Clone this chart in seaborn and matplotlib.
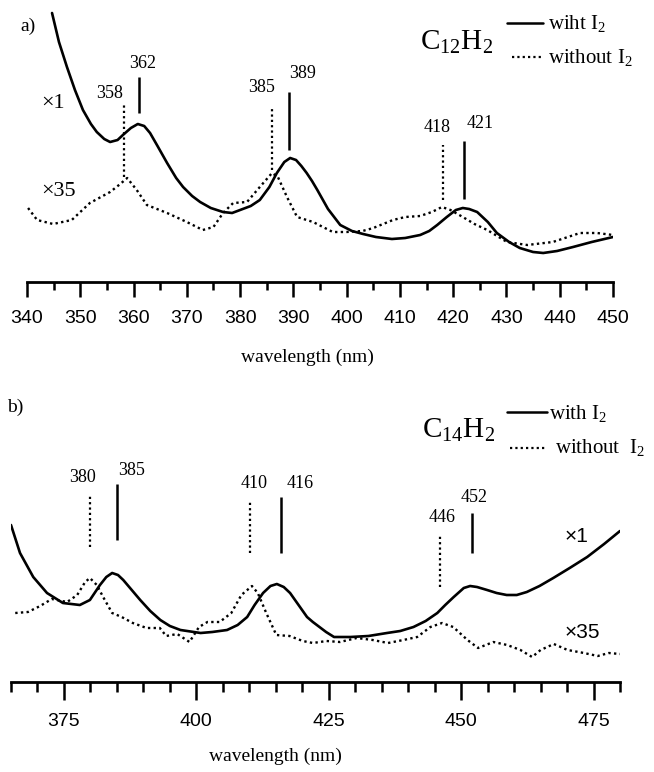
import matplotlib
matplotlib.use("Agg")
import matplotlib.pyplot as plt
from matplotlib import font_manager
from matplotlib.lines import Line2D
from matplotlib.ticker import MultipleLocator
import seaborn as sns
import pandas as pd

# ---------------- data ----------------
# Panel a: C12H2
a_with_wl = [344.7, 346, 347.5, 349, 350.5, 352, 353.1, 354.5, 355.6, 357, 358, 359.5, 360.8, 362,
             363.1, 364.5, 366.3, 368, 369.3, 371, 372.5, 374.5, 376.8, 378.5, 380, 382, 383.7,
             385.5, 386.9, 388.3, 389.4, 390.5, 391.5, 392.5, 393.5, 394.5, 396.5, 398.8, 401,
             403.1, 405.5, 408.5, 411, 413.8, 415.5, 417, 418.8, 420.5, 421.8, 423, 424.5, 426.5,
             428.2, 430.5, 432.5, 435, 436.9, 439.5, 442.5, 446, 450]
a_with_abs = [269, 240, 215, 192, 172, 158, 150, 143, 140, 142, 147, 154, 158, 156,
              149, 136, 119, 104, 95, 86, 80, 74, 70, 69, 72, 76, 82,
              95, 109, 120, 124, 122, 116, 109, 101, 92, 73, 57, 51,
              48, 45, 43, 44, 47, 51, 57, 65, 72, 74, 73, 70, 60,
              49, 40, 34, 30, 29, 31, 35, 40, 45]
a_without_wl = [340.2, 341.9, 344.9, 348.4, 351.8, 355.6, 357.5, 358.8, 360.6, 362.5, 366.3, 370,
                373, 375, 376.8, 378.7, 381.3, 383.7, 386, 387.1, 388.8, 390.7, 393.7, 397.4, 400,
                403, 405, 408.7, 411, 413.8, 416, 417.9, 419.5, 421.8, 424, 426.4, 430.1, 433.9,
                438.7, 443.8, 447, 450]
a_without_abs = [74, 62, 58, 62, 79, 90, 98, 104, 92, 77, 69, 60,
                 52, 55, 69, 79, 80, 95, 109, 105, 85, 65, 60, 50, 50,
                 51, 54, 62, 65, 66, 70, 75, 72, 65, 58, 52, 40, 37,
                 40, 49, 49, 47]
a_peak_labels = ["358", "362", "385", "389", "418", "421"]
a_peak_pos = [358.2, 361.0, 386.0, 389.2, 418.1, 422.0]
a_ticks = [340, 350, 360, 370, 380, 390, 400, 410, 420, 430, 440, 450]

# Panel b: C14H2
b_with_wl = [365, 366.7, 369.2, 371.8, 374.8, 378, 379.9, 381.8, 383, 384.1, 385.2, 386.2, 387.8,
             389.4, 391.3, 393.2, 395, 397, 400.8, 403, 405.8, 407.8, 409.6, 411, 412.6, 414,
             415.2, 416.5, 417.7, 419.3, 420.9, 422, 424.5, 426, 429.1, 432.5, 436, 438.5, 441,
             443.3, 445.5, 447, 448.6, 450.5, 451.7, 453, 454.9, 456.7, 458.6, 460.5, 462.4,
             464.8, 467.4, 470.5, 473.8, 477, 480]
b_with_abs = [157, 129, 105, 89, 79, 77, 82, 97, 105, 109, 107, 102, 92,
              82, 71, 62, 56, 52, 49, 50, 52, 57, 65, 77, 89, 96,
              98, 95, 89, 77, 65, 60, 50, 45, 45, 46, 49, 51, 55,
              61, 69, 77, 85, 94, 96, 95, 92, 89, 87, 87, 90,
              96, 104, 114, 125, 138, 151]
b_without_wl = [365.8, 368.2, 370.5, 372.7, 375.6, 377.5, 379, 379.9, 381.2, 382.4, 384.1, 385.9,
                388, 390.6, 393.1, 394.3, 396.4, 398.7, 400.5, 402.1, 404.4, 406.6, 408.5, 410.5,
                411.6, 413.2, 415.1, 417.6, 420.1, 422, 424.6, 427.1, 430.3, 433.3, 436.2, 439.1,
                441.7, 444.2, 446.4, 448.5, 451.2, 453.2, 456.1, 458.7, 461.2, 463.4, 465, 467.5,
                470.1, 473.2, 475.8, 477.9, 480]
b_without_abs = [69, 70, 76, 83, 80, 87, 100, 104, 97, 85, 69, 65,
                 59, 54, 54, 46, 48, 40, 55, 60, 60, 69, 87, 96,
                 89, 69, 47, 46, 41, 39, 41, 40, 44, 42, 39, 42,
                 45, 55, 59, 55, 42, 34, 40, 37, 32, 25, 32, 38,
                 32, 29, 26, 29, 28]
b_peak_labels = ["380", "385", "410", "416", "446", "452"]
b_peak_pos = [379.9, 385.0, 410.2, 416.0, 446.0, 452.1]
b_ticks = [375, 400, 425, 450, 475]

# ---------------- style ----------------
sns.set_theme(style="white")
available = {f.name for f in font_manager.fontManager.ttflist}
SERIF = "Liberation Serif" if "Liberation Serif" in available else "DejaVu Serif"
NARROW = "Liberation Sans Narrow" if "Liberation Sans Narrow" in available else "Liberation Sans"
TICK_SIZE = 15 if NARROW == "Liberation Sans Narrow" else 14
plt.rcParams["font.family"] = [SERIF, "DejaVu Serif"]
plt.rcParams["mathtext.fontset"] = "custom"
plt.rcParams["mathtext.rm"] = SERIF
plt.rcParams["mathtext.it"] = SERIF + ":italic"

W, H = 654, 772
fig = plt.figure(figsize=(W / 100, H / 100), dpi=100)
fig.patch.set_facecolor("white")


def fx(px):
    return px / W


def fy(py):
    return 1 - py / H


def ftext(px, py, s, size, family=None, ha="center", va="center"):
    kw = {}
    if family:
        kw["family"] = family
    fig.text(fx(px), fy(py), s, fontsize=size, ha=ha, va=va, color="black", **kw)


def fline(x1, x2, y, ls):
    fig.add_artist(Line2D([fx(x1), fx(x2)], [fy(y), fy(y)], transform=fig.transFigure,
                          color="black", lw=1.8 if ls == "-" else 1.6, linestyle=ls))


def style_axis(ax, xlim, minor, ticks, maj_len, min_len):
    ax.set_xlim(*xlim)
    ax.set_ylim(0, 282)
    for s in ["top", "right", "left"]:
        ax.spines[s].set_visible(False)
    ax.spines["bottom"].set_linewidth(2.0)
    ax.spines["bottom"].set_color("black")
    ax.set_yticks([])
    ax.set_xticks(ticks)
    ax.xaxis.set_minor_locator(MultipleLocator(minor))
    ax.tick_params(axis="x", which="major", direction="out", length=maj_len, width=1.8,
                   color="black", pad=9, bottom=True, labelsize=TICK_SIZE, labelcolor="black")
    ax.tick_params(axis="x", which="minor", direction="out", length=min_len, width=1.8,
                   color="black", bottom=True)
    for lab in ax.get_xticklabels():
        lab.set_family(NARROW)
    ax.set_facecolor("none")
    ax.grid(False)
    ax.set_xlabel("")
    ax.set_ylabel("")


DOT = (0, (1, 1.4))

# ---------------- panel a ----------------
axa = fig.add_axes([fx(27), fy(282), fx(613) - fx(27), 282 / H])
dfa1 = pd.DataFrame({"wl": a_with_wl, "A": a_with_abs})
dfa2 = pd.DataFrame({"wl": a_without_wl, "A": a_without_abs})
sns.lineplot(data=dfa1, x="wl", y="A", ax=axa, color="black", lw=1.9, sort=False)
sns.lineplot(data=dfa2, x="wl", y="A", ax=axa, color="black", lw=1.7, linestyle=DOT, sort=False)
style_axis(axa, (340, 450), 5, a_ticks, 11, 6)

a_seg = [(105, 177), (169, 205), (112, 174), (132, 190), (82, 137), (83, 141)]
a_lab = [(110, 93), (143, 63), (262, 88), (303, 73), (437, 127), (480, 123)]
for i, (pos, lab) in enumerate(zip(a_peak_pos, a_peak_labels)):
    ls = DOT if i % 2 == 0 else "-"
    axa.vlines(pos, a_seg[i][0], a_seg[i][1], colors="black",
               linestyles=[ls], lw=1.8 if ls == "-" else 1.6)
    ftext(a_lab[i][0], a_lab[i][1], lab, 13)

ftext(28, 26, "a)", 14)
ftext(41, 104, "×1", 16, ha="left")
ftext(41, 192, "×35", 16, ha="left")
ftext(420, 42, r"$\mathrm{C_{12}H_2}$", 21, ha="left")
fline(507, 543, 23, "-")
fline(512, 543, 57, DOT)
ftext(548, 24, r"wiht I$_2$", 15, ha="left")
ftext(548, 58, r"without I$_2$", 15, ha="left")
ftext(307, 357, "wavelength (nm)", 14)

# ---------------- panel b ----------------
axb = fig.add_axes([fx(11), fy(682), fx(620) - fx(11), 282 / H])
dfb1 = pd.DataFrame({"wl": b_with_wl, "A": b_with_abs})
dfb2 = pd.DataFrame({"wl": b_without_wl, "A": b_without_abs})
sns.lineplot(data=dfb1, x="wl", y="A", ax=axb, color="black", lw=1.9, sort=False)
sns.lineplot(data=dfb2, x="wl", y="A", ax=axb, color="black", lw=1.7, linestyle=DOT, sort=False)
style_axis(axb, (365, 480), 5, b_ticks, 13, 7)

b_seg = [(135, 187), (142, 198), (129, 180), (129, 185), (95, 147), (129, 169)]
b_lab = [(83, 477), (132, 471), (254, 483), (300, 483), (442, 517), (474, 498)]
for i, (pos, lab) in enumerate(zip(b_peak_pos, b_peak_labels)):
    ls = DOT if i % 2 == 0 else "-"
    axb.vlines(pos, b_seg[i][0], b_seg[i][1], colors="black",
               linestyles=[ls], lw=1.8 if ls == "-" else 1.6)
    ftext(b_lab[i][0], b_lab[i][1], lab, 13)

ftext(15, 407, "b)", 14)
ftext(565, 536, "×1", 15, family=NARROW, ha="left")
ftext(565, 632, "×35", 15, family=NARROW, ha="left")
ftext(422, 430, r"$\mathrm{C_{14}H_2}$", 21, ha="left")
fline(507, 547, 412, "-")
fline(510, 545, 448, DOT)
ftext(549, 413, r"with I$_2$", 15, ha="left")
ftext(555, 448, r"without  I$_2$", 15, ha="left")
ftext(275, 756, "wavelength (nm)", 14)

fig.savefig("out.png", dpi=100, facecolor="white")
